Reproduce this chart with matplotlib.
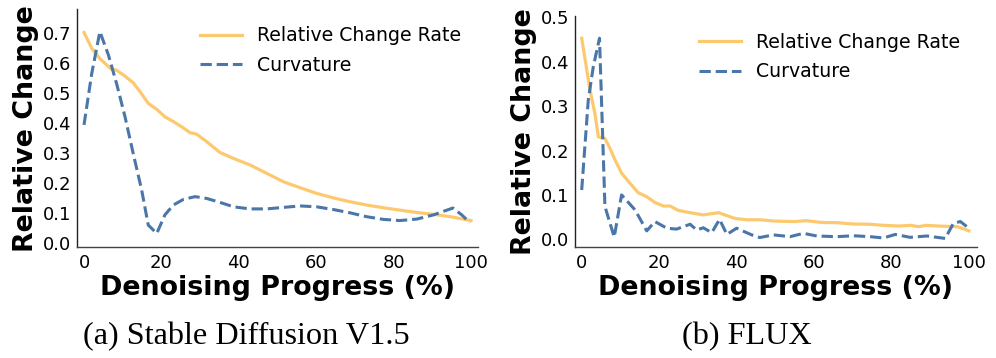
import matplotlib
matplotlib.use("Agg")
import matplotlib.pyplot as plt

# ---- Data: (a) Stable Diffusion V1.5 ----
sd_rate_x = [0, 2, 4.1, 6.3, 7.1, 8.4, 10.6, 12.7, 14.5, 16.6, 18.8, 20.9, 23.1, 25.2, 27.4, 29.1,
             31.7, 35.1, 38.6, 42.9, 47.2, 51.5, 55.8, 60.1, 64.4, 68.7, 73, 77.3, 81.6, 86, 90.3,
             94.6, 100]
sd_rate_y = [0.703, 0.65, 0.616, 0.589, 0.58, 0.577, 0.557, 0.535, 0.505, 0.466, 0.446, 0.421,
             0.405, 0.388, 0.368, 0.363, 0.338, 0.302, 0.282, 0.26, 0.232, 0.204, 0.184, 0.165,
             0.150, 0.137, 0.126, 0.117, 0.109, 0.101, 0.095, 0.087, 0.074]
sd_curv_x = [0, 2, 4.1, 6.3, 8.4, 10.6, 12.7, 14.9, 16.6, 18.8, 20.9, 23.1, 25.7, 28.7, 31.7,
             35.1, 38.6, 42.9, 47.2, 51.5, 55.8, 60.1, 64.4, 68.7, 73, 77.3, 81.6, 86, 90.3,
             95.3, 97.6, 99.7]
sd_curv_y = [0.394, 0.566, 0.706, 0.628, 0.533, 0.421, 0.299, 0.176, 0.059, 0.031, 0.093, 0.126,
             0.145, 0.154, 0.148, 0.135, 0.120, 0.113, 0.113, 0.118, 0.123, 0.120, 0.111, 0.100,
             0.087, 0.078, 0.074, 0.079, 0.093, 0.116, 0.093, 0.067]

# ---- Data: (b) FLUX ----
flux_rate_x = [0, 2.15, 3.4, 4.3, 6, 7.3, 8.6, 10.3, 12.5, 14.6, 16.8, 18.9, 21.1, 22.8, 25, 28,
               31.4, 35.3, 39.6, 42.6, 46, 50, 55, 58, 62, 66, 70, 74, 78, 82, 85, 87, 89, 92,
               95, 97, 99, 100]
flux_rate_y = [0.453, 0.336, 0.284, 0.231, 0.227, 0.205, 0.179, 0.149, 0.126, 0.105, 0.096, 0.083,
               0.075, 0.075, 0.065, 0.060, 0.055, 0.060, 0.047, 0.044, 0.044, 0.041, 0.040, 0.042,
               0.038, 0.0375, 0.0345, 0.034, 0.0315, 0.030, 0.0315, 0.0285, 0.0315, 0.030, 0.029,
               0.0285, 0.0225, 0.019]
flux_curv_x = [0, 1.7, 3, 4.6, 6, 8.4, 10.3, 13.8, 16.8, 18.9, 22, 24.5, 28, 29.7, 31.4, 33.6,
               35.6, 37.5, 40, 43.9, 46, 49.5, 53.8, 57.3, 60.7, 65.9, 70.2, 74.5, 77.9, 81, 84.8,
               89.2, 93.9, 96, 97.8, 99.5]
flux_curv_y = [0.111, 0.314, 0.389, 0.453, 0.074, 0.005, 0.10, 0.066, 0.019, 0.040, 0.025, 0.023,
               0.034, 0.021, 0.026, 0.015, 0.045, 0.011, 0.025, 0.010, 0.004, 0.010, 0.006, 0.0135,
               0.0075, 0.006, 0.008, 0.006, 0.003, 0.011, 0.0045, 0.0075, 0.002, 0.036, 0.040,
               0.0285]

xticks = [0, 20, 40, 60, 80, 100]
sd_yticks = [0.0, 0.1, 0.2, 0.3, 0.4, 0.5, 0.6, 0.7]
flux_yticks = [0.0, 0.1, 0.2, 0.3, 0.4, 0.5]

ORANGE = "#FDC96F"
BLUE = "#4A76A8"
W, H = 996, 358

fig = plt.figure(figsize=(W / 100, H / 100), dpi=100)


def make_ax(left_px, right_px, top_px, bottom_px):
    return fig.add_axes([left_px / W, 1 - bottom_px / H,
                         (right_px - left_px) / W, (bottom_px - top_px) / H])


ax1 = make_ax(77, 478, 9.3, 247)
ax2 = make_ax(575, 977, 16, 247)

panels = [
    (ax1, sd_rate_x, sd_rate_y, sd_curv_x, sd_curv_y, sd_yticks, (-1.81, 101.8), (-0.0144, 0.7806)),
    (ax2, flux_rate_x, flux_rate_y, flux_curv_x, flux_curv_y, flux_yticks, (-1.73, 102.1), (-0.0173, 0.503)),
]

for ax, rx, ry, cx, cy, yt, xl, yl in panels:
    ax.plot(rx, ry, color=ORANGE, lw=2.3, label="Relative Change Rate")
    ax.plot(cx, cy, color=BLUE, lw=2.2, ls="--", label="Curvature")
    ax.set_xlim(*xl)
    ax.set_ylim(*yl)
    ax.set_xticks(xticks)
    ax.set_yticks(yt)
    ax.set_yticklabels([f"{v:.1f}" for v in yt])
    ax.tick_params(axis="both", length=0, labelsize=13, colors="black")
    ax.tick_params(axis="x", pad=5.3)
    ax.tick_params(axis="y", pad=4.0)
    for s in ["top", "right"]:
        ax.spines[s].set_visible(False)
    ax.spines["left"].set_color("#222222")
    ax.spines["bottom"].set_color("#444444")
    ax.spines["left"].set_linewidth(1.0)
    ax.spines["bottom"].set_linewidth(1.0)
    ax.set_xlabel("Denoising Progress (%)", fontsize=19.4, fontweight="bold", labelpad=2)
    ax.set_ylabel("Relative Change", fontsize=19.4, fontweight="bold", labelpad=3)
    ax.legend(loc="upper right", frameon=False, fontsize=13.6, handlelength=2.2,
              handletextpad=0.8, labelspacing=0.55, bbox_to_anchor=(1.0, 1.0))

fig.text(246 / W, 1 - 337 / H, "(a) Stable Diffusion V1.5", family="Liberation Serif",
         fontsize=23.2, ha="center", va="center")
fig.text(747 / W, 1 - 337 / H, "(b) FLUX", family="Liberation Serif",
         fontsize=23.2, ha="center", va="center")

fig.savefig("out.png", dpi=100)
